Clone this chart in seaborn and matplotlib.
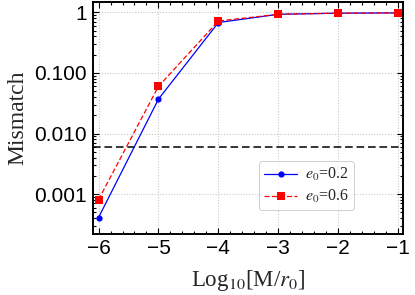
import numpy as np
import pandas as pd
import matplotlib
matplotlib.use('Agg')
import matplotlib.pyplot as plt
from matplotlib.ticker import FixedLocator, FixedFormatter, LogLocator, MultipleLocator, NullFormatter
import seaborn as sns

log_mass = [-6, -5, -4, -3, -2, -1]
mismatch_e02 = [4.1e-4, 0.037, 0.68, 0.93, 0.97, 0.98]
mismatch_e06 = [8.1e-4, 0.060, 0.72, 0.93, 0.97, 0.98]
threshold = 0.006
ytick_vals = [0.001, 0.01, 0.1, 1]
ytick_labels = ['0.001', '0.010', '0.100', '1']
xtick_vals = [-6, -5, -4, -3, -2, -1]

sns.set_style('ticks')
plt.rcParams.update({
    'font.family': ['Liberation Sans', 'DejaVu Sans'],
    'mathtext.fontset': 'stix',
    'xtick.direction': 'in',
    'ytick.direction': 'in',
})

df = pd.DataFrame({
    'x': log_mass * 2,
    'y': mismatch_e02 + mismatch_e06,
    'series': ['e02'] * len(log_mass) + ['e06'] * len(log_mass),
})

fig = plt.figure(figsize=(4.15, 2.95), dpi=100)
ax = fig.add_axes([0.223, 0.207, 0.748, 0.786])

sns.lineplot(data=df[df.series == 'e02'], x='x', y='y', ax=ax, color='#0000ff',
             lw=0.9, marker='o', markersize=4.5, markeredgewidth=0,
             label=r'$e_0$=0.2')
sns.lineplot(data=df[df.series == 'e06'], x='x', y='y', ax=ax, color='#ff0000',
             lw=0.9, linestyle=(0, (4, 2)), marker='s', markersize=5.5,
             markeredgewidth=0, label=r'$e_0$=0.6')
ax.axhline(threshold, color='black', lw=1.1, linestyle=(0, (5, 2.5)), zorder=1)

ax.set_yscale('log')
ax.set_xlim(-6.1, -0.92)
ax.set_ylim(2.2e-4, 1.48)

ax.yaxis.set_major_locator(FixedLocator(ytick_vals))
ax.yaxis.set_major_formatter(FixedFormatter(ytick_labels))
ax.yaxis.set_minor_locator(LogLocator(base=10, subs=np.arange(2, 10)))
ax.yaxis.set_minor_formatter(NullFormatter())
ax.xaxis.set_major_locator(FixedLocator(xtick_vals))
ax.xaxis.set_major_formatter(FixedFormatter(['\u22126', '\u22125', '\u22124', '\u22123', '\u22122', '\u22121']))
ax.xaxis.set_minor_locator(MultipleLocator(0.2))

ax.tick_params(which='both', top=True, right=True, direction='in', width=0.8, colors='black')
ax.tick_params(which='major', length=4, labelsize=15, pad=4)
ax.tick_params(which='minor', length=2.2)

ax.grid(True, which='major', color='#c8c8c8', linestyle=(0, (1, 1.5)), lw=0.8)
for s in ax.spines.values():
    s.set_linewidth(1.4)
    s.set_color('black')

ax.set_xlabel(r'Log$_{10}$[M/$r_0$]', fontsize=16.5, family=['Liberation Serif'], labelpad=7)
ax.set_ylabel('Mismatch', fontsize=17, family=['Liberation Serif'], labelpad=4)

leg = ax.legend(loc='lower right', bbox_to_anchor=(0.842, 0.103), frameon=True,
                prop={'family': 'Liberation Serif', 'size': 11.5}, handlelength=2.1,
                borderpad=0.3, labelspacing=0.3, handletextpad=0.5, fancybox=True,
                borderaxespad=0)
leg.get_frame().set_edgecolor('#bbbbbb')
leg.get_frame().set_linewidth(0.6)

fig.savefig('out.png', dpi=100)
